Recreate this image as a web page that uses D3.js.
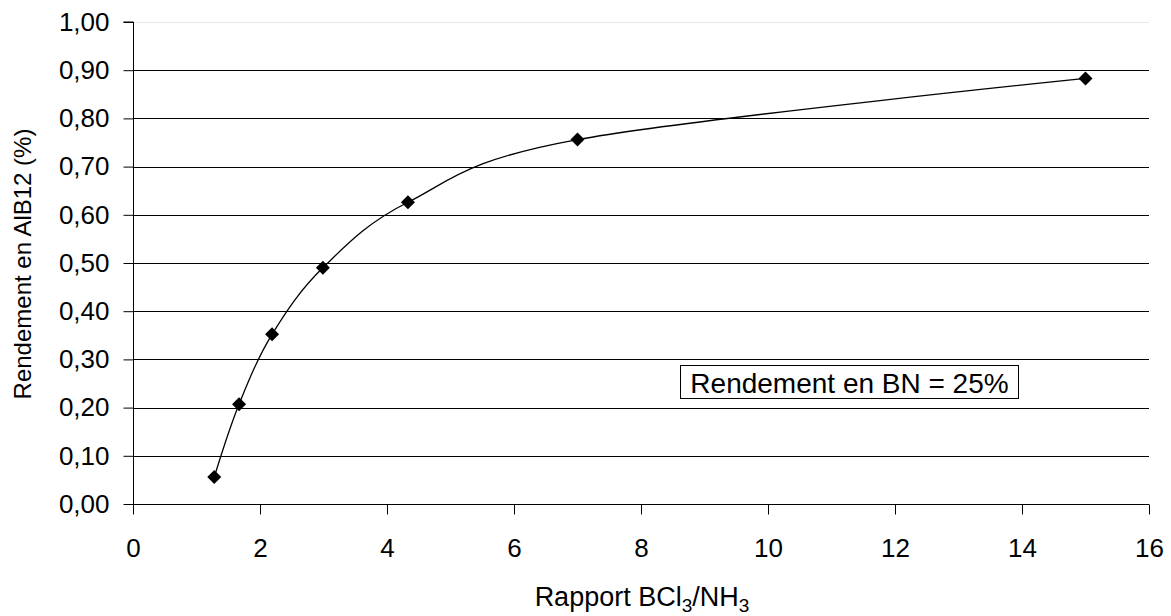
<!DOCTYPE html>
<html>
<head>
<meta charset="utf-8">
<script src="https://cdn.jsdelivr.net/npm/d3@7"></script>
<style>
  body { margin: 0; background: #fff; }
  text { font-family: "Liberation Sans", Arial, sans-serif; fill: #000; }
</style>
</head>
<body>
<script>
// ratio BCl3/NH3 and yield in AlB12
const ratios = [1.28, 1.67, 2.19, 2.99, 4.33, 7.0, 15.0];
const yields = [0.056, 0.207, 0.352, 0.490, 0.626, 0.756, 0.883];
const xTicks = [0, 2, 4, 6, 8, 10, 12, 14, 16];
const yTicks = [0, 0.1, 0.2, 0.3, 0.4, 0.5, 0.6, 0.7, 0.8, 0.9, 1.0];
const boxLabel = 'Rendement en BN = 25%';

const width = 1171;
const height = 616;
const margin = {top: 22, right: 22, bottom: 112, left: 133};

const svg = d3.select('body').append('svg')
    .attr('width', width)
    .attr('height', height);

const x = d3.scaleLinear()
    .domain([0, 16])
    .range([margin.left, 1149]);

const y = d3.scaleLinear()
    .domain([0, 1])
    .range([504, margin.top]);

// grid lines
svg.append('g')
    .selectAll('line')
    .data(yTicks.slice(1))
    .join('line')
        .attr('x1', x(0))
        .attr('x2', x(16))
        .attr('y1', d => Math.round(y(d)) + 0.5)
        .attr('y2', d => Math.round(y(d)) + 0.5)
        .attr('stroke', d => d === 1 ? '#e8e8e8' : '#000')
        .attr('stroke-width', 1);

// axes
const fmt = d => d3.format('.2f')(d).replace('.', ',');

svg.append('g')
    .attr('transform', `translate(${x(0) + 0.5},0)`)
    .call(d3.axisLeft(y).tickValues(yTicks).tickFormat(fmt).tickSize(10).tickPadding(14))
    .call(g => g.select('.domain').attr('d', `M-10,${y(1)}H0V${y(0)}`));

svg.append('g')
    .attr('transform', `translate(0,${Math.round(y(0)) + 0.5})`)
    .call(d3.axisBottom(x).tickValues(xTicks).tickSize(10).tickPadding(24))
    .call(g => g.select('.domain').attr('d', `M${x(0)},0H${x(16)}`));

svg.selectAll('.tick text').attr('font-size', 26)
    .attr('font-family', '"Liberation Sans", Arial, sans-serif');
svg.selectAll('.tick line, .domain').attr('stroke', '#000');

// smoothed curve
const points = ratios.map((r, i) => [r, yields[i]]);

svg.append('path')
    .datum(points)
    .attr('fill', 'none')
    .attr('stroke', '#000')
    .attr('stroke-width', 1.3)
    .attr('d', d3.line()
        .x(d => x(d[0]))
        .y(d => y(d[1]))
        .curve(d3.curveCardinal.tension(0)));

// diamond markers
svg.append('g')
    .selectAll('path')
    .data(points)
    .join('path')
        .attr('transform', d => `translate(${x(d[0])},${y(d[1])})`)
        .attr('d', 'M0,-7L7,0L0,7L-7,0Z')
        .attr('fill', '#000');

// annotation box
const box = svg.append('g').attr('transform', 'translate(680.5,365.5)');
box.append('rect')
    .attr('width', 338)
    .attr('height', 33)
    .attr('fill', '#fff')
    .attr('stroke', '#000');
box.append('text')
    .attr('x', 169)
    .attr('y', 27)
    .attr('text-anchor', 'middle')
    .attr('font-size', 28)
    .text(boxLabel);

// axis titles
const xTitle = svg.append('text')
    .attr('x', 642)
    .attr('y', 606)
    .attr('text-anchor', 'middle')
    .attr('font-size', 27);
xTitle.append('tspan').text('Rapport BCl');
xTitle.append('tspan').attr('font-size', 19).attr('dy', 6).text('3');
xTitle.append('tspan').attr('dy', -6).text('/NH');
xTitle.append('tspan').attr('font-size', 19).attr('dy', 6).text('3');

svg.append('text')
    .attr('transform', 'translate(31,264) rotate(-90)')
    .attr('text-anchor', 'middle')
    .attr('font-size', 24)
    .text('Rendement en AlB12 (%)');
</script>
</body>
</html>
